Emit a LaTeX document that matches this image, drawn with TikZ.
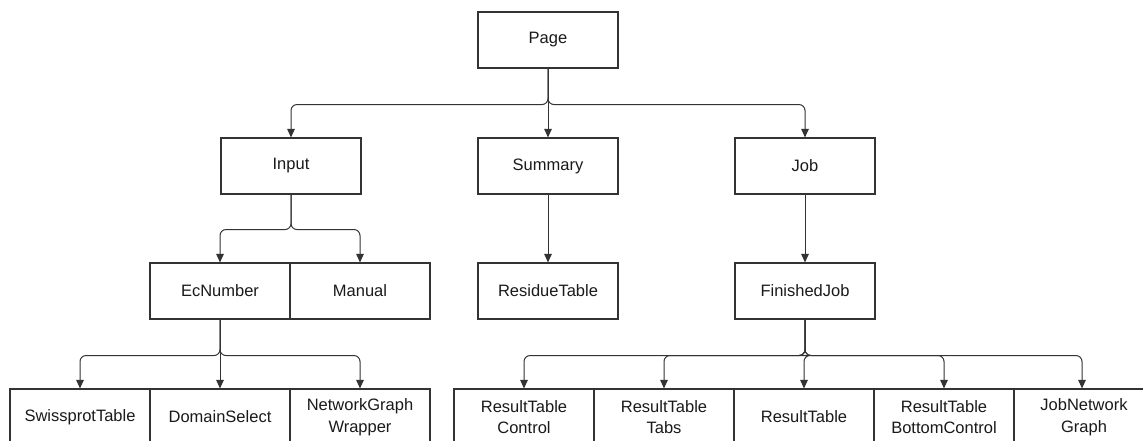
\documentclass[tikz,border=0pt]{standalone}
\usepackage{fontspec}
\setmainfont{Liberation Sans}
\usetikzlibrary{arrows.meta}
\definecolor{edge}{HTML}{333333}
\definecolor{ink}{HTML}{1A1A1A}
\begin{document}
\begin{tikzpicture}[x=1pt,y=-1pt,
  box/.style={draw=edge, line width=1.1pt, fill=white, minimum width=140pt,
    minimum height=56pt, inner sep=0pt, align=center, text=ink,
    font=\fontsize{16.5}{21.5}\selectfont},
  conn/.style={draw=edge, line width=1pt, rounded corners=6pt,
    -{Triangle[length=8.5pt,width=7.5pt]}}]
\useasboundingbox (0,0) rectangle (1143,441);
\clip (0,0) rectangle (1143,441);

% level 0
\node[box] (page) at (548,40) {Page};
% level 1
\node[box] (input)   at (291,166) {Input};
\node[box] (summary) at (548,166) {Summary};
\node[box] (job)     at (805,166) {Job};
% level 2
\node[box] (ec)       at (220,291) {EcNumber};
\node[box] (manual)   at (360,291) {Manual};
\node[box] (residue)  at (548,291) {ResidueTable};
\node[box] (finished) at (805,291) {FinishedJob};
% level 3
\node[box] (swiss)  at (80,417)  {SwissprotTable};
\node[box] (domain) at (220,417) {DomainSelect};
\node[box] (netgw)  at (360,417) {NetworkGraph\\Wrapper};
\node[box] (rtctl)  at (524,417) {ResultTable\\Control};
\node[box] (rttabs) at (664,417) {ResultTable\\Tabs};
\node[box] (rt)     at (804,417) {ResultTable};
\node[box] (rtbot)  at (944,417) {ResultTable\\BottomControl};
\node[box] (jng)    at (1084,417) {JobNetwork\\Graph};

% connectors from Page
\draw[conn] (page.south) -- ++(0,36) -| (input.north);
\draw[conn] (page.south) -- (summary.north);
\draw[conn] (page.south) -- ++(0,36) -| (job.north);

% connectors from Input
\draw[conn] (input.south) -- ++(0,35) -| (ec.north);
\draw[conn] (input.south) -- ++(0,35) -| (manual.north);

% single children
\draw[conn] (summary.south) -- (residue.north);
\draw[conn] (job.south) -- (finished.north);

% connectors from EcNumber
\draw[conn] (ec.south) -- ++(0,36) -| (swiss.north);
\draw[conn] (ec.south) -- (domain.north);
\draw[conn] (ec.south) -- ++(0,36) -| (netgw.north);

% connectors from FinishedJob
\draw[conn] (finished.south) -- ++(0,36) -| (rtctl.north);
\draw[conn] (finished.south) -- ++(0,36) -| (rttabs.north);
\draw[conn] (finished.south) -- ++(0,36) -| (rt.north);
\draw[conn] (finished.south) -- ++(0,36) -| (rtbot.north);
\draw[conn] (finished.south) -- ++(0,36) -| ([xshift=-2pt]jng.north);
\end{tikzpicture}
\end{document}
